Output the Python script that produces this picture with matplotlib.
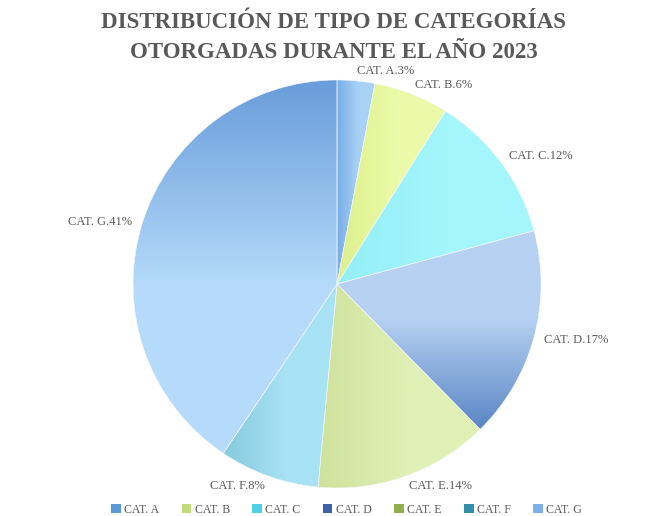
import numpy as np
import matplotlib
matplotlib.use('Agg')
import matplotlib.pyplot as plt
from matplotlib.colors import to_rgb
from matplotlib.patches import Patch

# data
categories = ['CAT. A', 'CAT. B', 'CAT. C', 'CAT. D', 'CAT. E', 'CAT. F', 'CAT. G']
percents = [3, 6, 12, 17, 14, 8, 41]
title_lines = ['DISTRIBUCIÓN DE TIPO DE CATEGORÍAS', 'OTORGADAS DURANTE EL AÑO 2023']

# slice fills: (dark shade, light shade, gradient axis, dark side)
slice_fills = [
    ('#78ade5', '#a8d1f6', 'x', 'low'),
    ('#dcf08c', '#ecfaa8', 'x', 'low'),
    ('#94eef8', '#a4f6fc', 'x', 'low'),
    ('#5a85c4', '#b6d1f2', 'y', 'low'),
    ('#cfe29c', '#e0f0b6', 'x', 'low'),
    ('#86c9dd', '#a8e2f5', 'x', 'low'),
    ('#699cdb', '#b6dbfa', 'y', 'high'),
]
legend_colors = ['#5b9bd5', '#bfdc78', '#4fd0e6', '#3c63aa', '#8fae4c', '#2f8ea8', '#7db0ec']

text_grey = '#595959'

fig = plt.figure(figsize=(6.54, 5.16), dpi=100)
ax = fig.add_axes([0.2034, 0.0543, 0.6239, 0.7907])

labels = ['%s.%d%%' % (c, p) for c, p in zip(categories, percents)]
wedges, texts = ax.pie(percents, labels=labels, startangle=90, counterclock=False,
                       labeldistance=1.05,
                       wedgeprops=dict(edgecolor='#f4f8fc', linewidth=0.4),
                       textprops=dict(fontsize=9, color=text_grey,
                                      family='Liberation Serif'))
ax.set_xlim(-1, 1)
ax.set_ylim(-1, 1)
ax.axis('off')


def fill_gradient(wedge, dark, light, axis, dark_side):
    verts = wedge.get_path().vertices
    x0, y0 = verts.min(axis=0)
    x1, y1 = verts.max(axis=0)
    t = np.linspace(0, 1, 256)
    if dark_side == 'high':
        t = t[::-1]
    # ease so most of the slice stays light
    t = np.clip(t * 1.8, 0, 1)
    c0 = np.array(to_rgb(dark))
    c1 = np.array(to_rgb(light))
    grad = c0[None, :] + (c1 - c0)[None, :] * t[:, None]
    if axis == 'x':
        img = grad[None, :, :]
    else:
        img = grad[:, None, :]
    im = ax.imshow(img, extent=(x0, x1, y0, y1), origin='lower',
                   aspect='auto', interpolation='bilinear', zorder=0.5)
    im.set_clip_path(wedge)
    wedge.set_facecolor('none')
    wedge.set_zorder(1)


for w, (dark, light, axis, side) in zip(wedges, slice_fills):
    fill_gradient(w, dark, light, axis, side)

ax.set_xlim(-1, 1)
ax.set_ylim(-1, 1)

for y, line in zip([0.957, 0.899], title_lines):
    fig.text(0.51, y, line, ha='center', va='center', fontsize=16.5,
             fontweight='bold', color=text_grey, family='Liberation Serif')

handles = [Patch(facecolor=c, edgecolor='none') for c in legend_colors]
fig.legend(handles, categories, loc='center', bbox_to_anchor=(0.53, 0.012),
           ncol=7, frameon=False, handlelength=0.8, handleheight=0.8,
           handletextpad=0.3, columnspacing=1.9,
           prop=dict(family='Liberation Serif', size=8.5), labelcolor=text_grey)

fig.savefig('out.png', dpi=100, facecolor='white')
